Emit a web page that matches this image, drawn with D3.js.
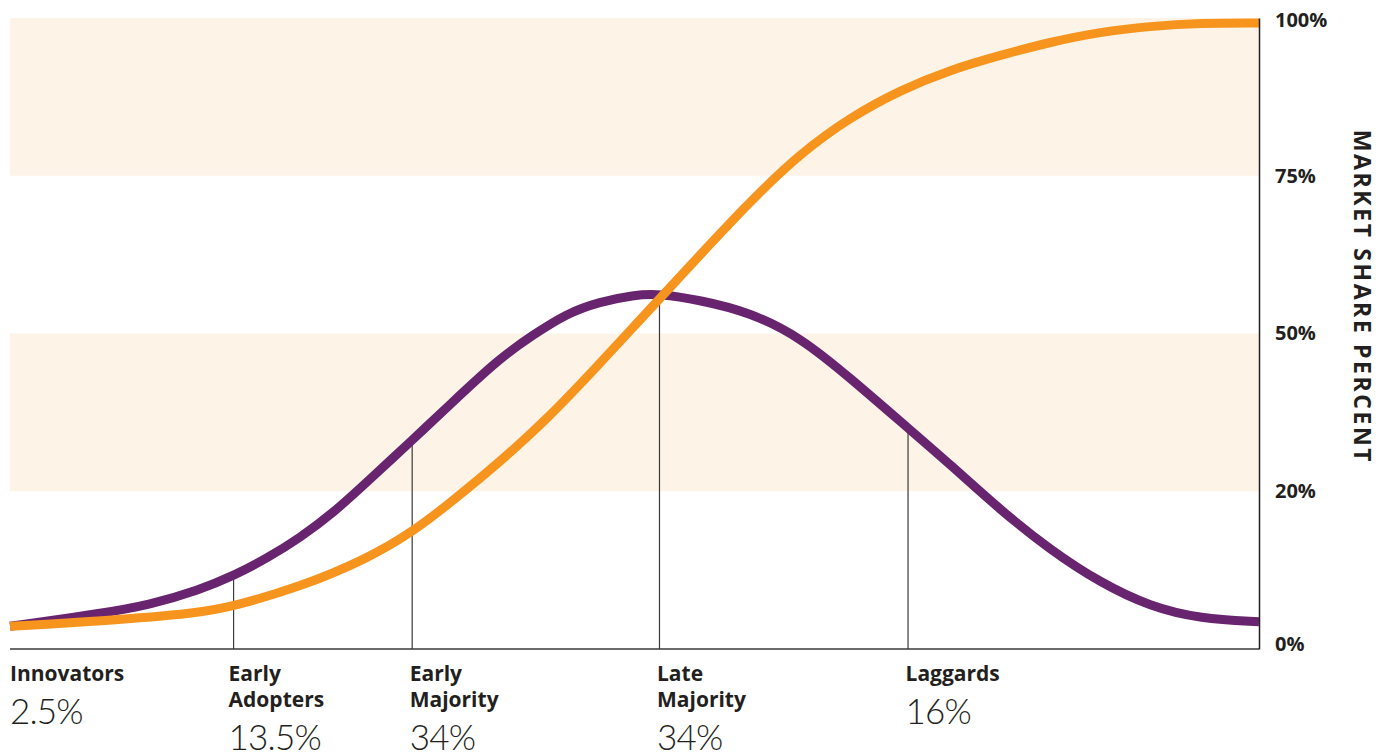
<!DOCTYPE html>
<html>
<head>
<meta charset="utf-8">
<script src="https://cdn.jsdelivr.net/npm/d3@7"></script>
<style>
  body { margin: 0; background: #fff; }
  svg { display: block; }
  .cat { font-family: "Open Sans", sans-serif; font-weight: 700; font-size: 21px; fill: #231f20; }
  .pct { font-family: Lato, sans-serif; font-weight: 300; font-size: 35px; letter-spacing: -0.8px; fill: #231f20; }
  .axis text { font-family: "Open Sans", sans-serif; font-weight: 700; font-size: 20px; fill: #231f20; }
</style>
</head>
<body>
<svg width="1389" height="756"></svg>
<script>
// adoption curve (bell) and market share (S), x in 0..100, y in percent of axis
var bellX = [0, 7.2, 11.2, 15.2, 17.9, 20.6, 23.2, 25.9, 28.6, 32.2, 35.2, 39.2, 41.9, 44.6, 47.2, 49.9, 52.0, 55.2, 59.2, 63.3, 67.3, 71.9, 75.3, 79.3, 83.3, 87.3, 91.3, 95.3, 100];
var bellY = [3.6, 5.6, 7.0, 9.4, 11.6, 14.4, 17.6, 21.6, 26.5, 33.1, 38.7, 46.1, 49.8, 53.2, 55.0, 56.1, 56.3, 55.3, 53.4, 49.4, 42.9, 35.0, 29.2, 22.0, 15.7, 10.5, 6.7, 4.8, 4.3];
var shareX = [0, 7.2, 15.2, 17.9, 23.2, 28.6, 32.2, 35.2, 39.2, 43.2, 47.2, 49.9, 52.0, 59.2, 63.3, 67.3, 71.3, 75.3, 79.3, 83.3, 87.3, 91.3, 95.3, 100];
var shareY = [3.6, 4.4, 5.7, 6.8, 9.8, 14.3, 18.5, 23.1, 29.6, 36.8, 45.2, 51.0, 55.5, 70.9, 78.6, 84.3, 88.6, 91.8, 94.1, 96.2, 97.8, 98.7, 99.2, 99.2];

var categories = [["Innovators"], ["Early", "Adopters"], ["Early", "Majority"], ["Late", "Majority"], ["Laggards"]];
var catPercents = ["2.5%", "13.5%", "34%", "34%", "16%"];
var catStart = [0, 17.5, 32.0, 51.8, 71.7];
var dividerX = [17.9, 32.2, 52.0, 71.9];
var dividerTop = [11.6, 33.1, 56.3, 35.0];

var tickValues = [0, 25, 50, 75, 100];
var tickLabels = ["0%", "20%", "50%", "75%", "100%"];
var bands = [[75, 100], [25, 50]];

var svg = d3.select("svg");
var plotLeft = 10, plotRight = 1259, plotTop = 18, plotBottom = 649;

var x = d3.scaleLinear().domain([0, 100]).range([plotLeft, plotRight]);
var y = d3.scaleLinear().domain([0, 100]).range([plotBottom, plotTop]);

svg.selectAll(".band").data(bands).enter().append("rect")
  .attr("x", x(0)).attr("width", x(100) - x(0))
  .attr("y", function(d) { return y(d[1]); })
  .attr("height", function(d) { return y(d[0]) - y(d[1]); })
  .attr("fill", "#fdf4e7");

svg.selectAll(".divider").data(dividerX).enter().append("line")
  .attr("x1", function(d) { return x(d); }).attr("x2", function(d) { return x(d); })
  .attr("y1", y(0)).attr("y2", function(d, i) { return y(dividerTop[i]); })
  .attr("stroke", "#3a3a3a").attr("stroke-width", 1.2);

var line = d3.line().curve(d3.curveBasis)
  .x(function(d) { return x(d[0]); }).y(function(d) { return y(d[1]); });

svg.append("path").datum(d3.zip(bellX, bellY))
  .attr("d", line).attr("fill", "none")
  .attr("stroke", "#68246f").attr("stroke-width", 9);

svg.append("path").datum(d3.zip(shareX, shareY))
  .attr("d", line).attr("fill", "none")
  .attr("stroke", "#f7941d").attr("stroke-width", 9);

// bottom axis line
svg.append("line").attr("x1", x(0)).attr("x2", x(100)).attr("y1", y(0)).attr("y2", y(0))
  .attr("stroke", "#3a3a3a").attr("stroke-width", 1.5);

var yAxis = svg.append("g").attr("class", "axis")
  .attr("transform", "translate(" + plotRight + ",0)")
  .call(d3.axisRight(y).tickValues(tickValues)
    .tickFormat(function(d, i) { return tickLabels[i]; })
    .tickSize(0).tickSizeOuter(0).tickPadding(16));
yAxis.select(".domain").attr("stroke", "#231f20").attr("stroke-width", 1.5);
yAxis.selectAll(".tick text").filter(function(d) { return d === 0; }).attr("dy", "0.08em");
yAxis.selectAll(".tick text").filter(function(d) { return d === 100; }).attr("dy", "0.42em");

svg.append("text")
  .attr("transform", "translate(1354,297) rotate(90)")
  .attr("text-anchor", "middle")
  .attr("font-family", "'Open Sans', sans-serif").attr("font-weight", 700)
  .attr("font-size", 23).attr("letter-spacing", 2.6).attr("fill", "#231f20")
  .text("MARKET SHARE PERCENT");

var cat = svg.selectAll(".catg").data(categories).enter().append("g")
  .attr("transform", function(d, i) { return "translate(" + x(catStart[i]) + ",0)"; });
cat.each(function(d, i) {
  var g = d3.select(this);
  d.forEach(function(word, j) {
    g.append("text").attr("class", "cat").attr("y", 681 + j * 26).text(word);
  });
  g.append("text").attr("class", "pct").attr("y", d.length > 1 ? 750 : 724).text(catPercents[i]);
});
</script>
</body>
</html>
